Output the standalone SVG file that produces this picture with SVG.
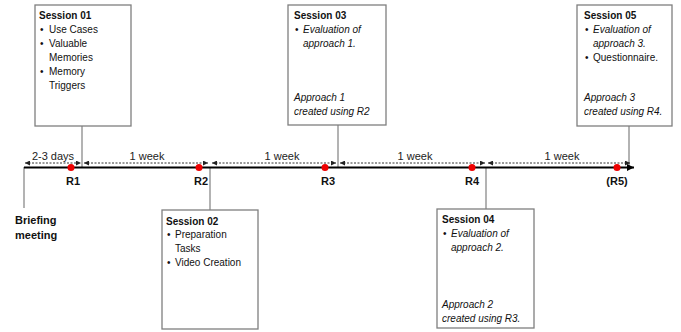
<svg xmlns="http://www.w3.org/2000/svg" width="681" height="332" viewBox="0 0 681 332">
<defs>
<marker id="ah" viewBox="0 0 6 6" refX="6" refY="3" markerWidth="5" markerHeight="5" orient="auto-start-reverse" markerUnits="userSpaceOnUse"><path d="M0,0 L6,3 L0,6 z" fill="#222"/></marker>
<marker id="big" viewBox="0 0 8 8" refX="8" refY="4" markerWidth="7" markerHeight="7" orient="auto" markerUnits="userSpaceOnUse"><path d="M0,0 L8,4 L0,8 z" fill="#000"/></marker>
<style>
text{font-family:"Liberation Sans",Arial,sans-serif;fill:#111}
.t{font-size:10px}
.b{font-weight:bold}
.i{font-style:italic}
.lab{font-size:11px;font-weight:bold}
.wk{font-size:11px;fill:#222}
.box{fill:#fff;stroke:#7f7f7f;stroke-width:1.3}
.con{stroke:#808080;stroke-width:1.2;fill:none}
.dash{stroke:#333;stroke-width:1;stroke-dasharray:2,1.5;marker-start:url(#ah);marker-end:url(#ah)}
.dot{fill:#e00}
</style>
</defs>
<g id="connectors">
<line class="con" x1="82" y1="126" x2="82" y2="167"/>
<line class="con" x1="210" y1="167" x2="210" y2="210"/>
<line class="con" x1="338" y1="125" x2="338" y2="167"/>
<line class="con" x1="486" y1="167" x2="486" y2="209"/>
<line class="con" x1="629" y1="126" x2="629" y2="167"/>
<line class="con" x1="24" y1="167" x2="24" y2="208"/>
<line class="dash" x1="25" y1="163" x2="81" y2="163"/>
<line class="dash" x1="84" y1="163" x2="208" y2="163"/>
<line class="dash" x1="212" y1="163" x2="336" y2="163"/>
<line class="dash" x1="340" y1="163" x2="485" y2="163"/>
<line class="dash" x1="488" y1="163" x2="630" y2="163"/>
</g>
<g id="timeline">
<line x1="24" y1="167.5" x2="634" y2="167.5" stroke="#000" stroke-width="2" marker-end="url(#big)"/>
<circle class="dot" cx="71" cy="167.5" r="3.5"/>
<circle class="dot" cx="199" cy="167.5" r="3.5"/>
<circle class="dot" cx="325" cy="167.5" r="3.5"/>
<circle class="dot" cx="472" cy="167.5" r="3.5"/>
<circle class="dot" cx="617" cy="167.5" r="3.5"/>
<text class="lab" x="73" y="185" text-anchor="middle">R1</text>
<text class="lab" x="201" y="185" text-anchor="middle">R2</text>
<text class="lab" x="328" y="185" text-anchor="middle">R3</text>
<text class="lab" x="472" y="185" text-anchor="middle">R4</text>
<text class="lab" x="617" y="185" text-anchor="middle">(R5)</text>
<text class="wk" x="53" y="160" text-anchor="middle">2-3 days</text>
<text class="wk" x="147" y="160" text-anchor="middle">1 week</text>
<text class="wk" x="282" y="160" text-anchor="middle">1 week</text>
<text class="wk" x="415" y="160" text-anchor="middle">1 week</text>
<text class="wk" x="562" y="160" text-anchor="middle">1 week</text>
</g>
<g id="briefing">
<text class="lab" x="15" y="224">Briefing</text>
<text class="lab" x="15" y="239">meeting</text>
</g>
<g id="session01">
<rect class="box" x="35" y="5" width="96" height="121"/>
<text class="t b" x="39" y="19">Session 01</text>
<text class="t" x="40" y="33">•</text><text class="t" x="49" y="33">Use Cases</text>
<text class="t" x="40" y="47">•</text><text class="t" x="49" y="47">Valuable</text>
<text class="t" x="49" y="61">Memories</text>
<text class="t" x="40" y="75">•</text><text class="t" x="49" y="75">Memory</text>
<text class="t" x="49" y="89">Triggers</text>
</g>
<g id="session02">
<rect class="box" x="162" y="210" width="96" height="119"/>
<text class="t b" x="166" y="225">Session 02</text>
<text class="t" x="167" y="238">•</text><text class="t" x="175" y="238">Preparation</text>
<text class="t" x="175" y="252">Tasks</text>
<text class="t" x="167" y="266">•</text><text class="t" x="175" y="266">Video Creation</text>
</g>
<g id="session03">
<rect class="box" x="288" y="5" width="98" height="120"/>
<text class="t b" x="294" y="19">Session 03</text>
<text class="t" x="295" y="33">•</text><text class="t i" x="303" y="33">Evaluation of</text>
<text class="t i" x="303" y="47">approach 1.</text>
<text class="t i" x="294" y="101">Approach 1</text>
<text class="t i" x="294" y="115">created using R2</text>
</g>
<g id="session04">
<rect class="box" x="437" y="209" width="97" height="119"/>
<text class="t b" x="442" y="223">Session 04</text>
<text class="t" x="443" y="237">•</text><text class="t i" x="451" y="237">Evaluation of</text>
<text class="t i" x="451" y="251">approach 2.</text>
<text class="t i" x="442" y="308">Approach 2</text>
<text class="t i" x="442" y="322">created using R3.</text>
</g>
<g id="session05">
<rect class="box" x="577" y="5" width="95" height="121"/>
<text class="t b" x="584" y="19">Session 05</text>
<text class="t" x="585" y="33">•</text><text class="t i" x="593" y="33">Evaluation of</text>
<text class="t i" x="593" y="47">approach 3.</text>
<text class="t" x="585" y="61">•</text><text class="t" x="593" y="61">Questionnaire.</text>
<text class="t i" x="584" y="101">Approach 3</text>
<text class="t i" x="584" y="115">created using R4.</text>
</g>
</svg>
